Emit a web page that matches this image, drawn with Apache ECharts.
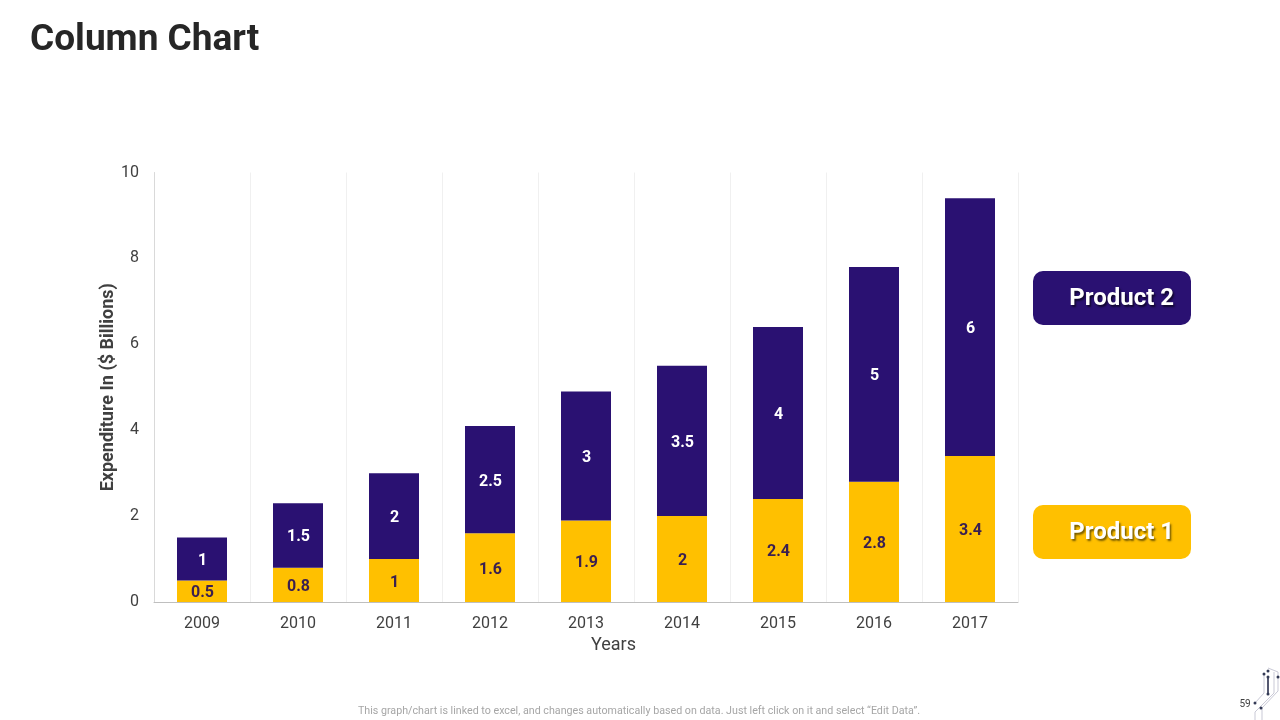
<!DOCTYPE html>
<html>
<head>
<meta charset="utf-8">
<style>html,body{margin:0;padding:0;background:#fff}#c{width:1280px;height:720px}</style>
<script src="https://cdn.jsdelivr.net/npm/echarts@6/dist/echarts.min.js"></script>
</head>
<body>
<div id="c"></div>
<script>
const years = ['2009','2010','2011','2012','2013','2014','2015','2016','2017'];
const product1 = [0.5,0.8,1,1.6,1.9,2,2.4,2.8,3.4];
const product2 = [1,1.5,2,2.5,3,3.5,4,5,6];
const yTicks = {min:0,max:10,interval:2};
const titleText = 'Column Chart';
const yName = 'Expenditure In ($ Billions)';
const xName = 'Years';
const footnote = 'This graph/chart is linked to excel, and changes automatically based on data. Just left click on it and select \u201cEdit Data\u201d.';
const pageNo = '59';
const NAVY = '#2a1172', GOLD = '#ffc000';
const FONT = 'Roboto';

const chart = echarts.init(document.getElementById('c'), null, {renderer:'canvas', width:1280, height:720});

function barSeries(name, data, color, labelColor){
  return {
    name, type:'bar', stack:'total', data, barWidth:50,
    itemStyle:{color},
    label:{show:true, position:'inside', offset:[0.5,2], color:labelColor, fontFamily:FONT, fontWeight:'bold', fontSize:16}
  };
}
function legendBox(y, color, text, shadow){
  return [
    {type:'rect', shape:{x:1033,y,width:158,height:54,r:10}, style:{fill:color}},
    {type:'text', style:{x:1174,y:y+28,text,align:'right',verticalAlign:'middle',fill:'#fff',
      font:'bold 24px '+FONT,textShadowColor:shadow,textShadowBlur:2,textShadowOffsetX:1.5,textShadowOffsetY:1.5}}
  ];
}
function deco(){
  const grey = {stroke:'#c9c9d6',lineWidth:1,fill:null};
  const dot = (x,y)=>({type:'circle',shape:{cx:x,cy:y,r:1.5},style:{fill:'#333a55'}});
  return [
    {type:'polyline',shape:{points:[[1255,703],[1264,693],[1264,674]]},style:grey},
    {type:'polyline',shape:{points:[[1262,720],[1262,708],[1278,691],[1278,672],[1268,668]]},style:grey},
    {type:'polyline',shape:{points:[[1255,720],[1255,712],[1274,693],[1274,672]]},style:grey},
    {type:'line',shape:{x1:1268,y1:677,x2:1268,y2:694},style:{stroke:'#1b2140',lineWidth:1.5}},
    dot(1255,703),dot(1268,677),dot(1268,694),dot(1264,674),dot(1268,671),dot(1278,677),dot(1261,708)
  ];
}

chart.setOption({
  animation:false,
  backgroundColor:'#fff',
  textStyle:{fontFamily:FONT},
  title:{text:titleText,left:25,top:17,textStyle:{fontFamily:FONT,fontSize:37,fontWeight:'bold',color:'#262626'}},
  grid:{left:154,top:172.5,width:864,height:429.5,containLabel:false},
  xAxis:{
    type:'category',data:years,
    name:xName,nameLocation:'middle',nameGap:34,
    nameTextStyle:{fontFamily:FONT,fontSize:18,color:'#404040',padding:[0,0,0,55]},
    axisTick:{show:false},
    axisLine:{lineStyle:{color:'#bfbfbf',width:1}},
    axisLabel:{fontFamily:FONT,fontSize:16,color:'#404040',margin:14},
    splitLine:{show:true,lineStyle:{color:'#f0f0f0',width:1}}
  },
  yAxis:{
    type:'value',min:yTicks.min,max:yTicks.max,interval:yTicks.interval,
    name:yName,nameLocation:'middle',nameGap:37,nameMoveOverlap:false,
    nameTextStyle:{fontFamily:FONT,fontSize:18,fontWeight:'bold',color:'#404040'},
    axisLine:{show:true,lineStyle:{color:'#d9d9d9',width:1}},
    axisTick:{show:false},
    axisLabel:{fontFamily:FONT,fontSize:16,color:'#404040',margin:15,padding:[6,0,0,0]},
    splitLine:{show:false}
  },
  series:[
    barSeries('Product 1',product1,GOLD,'#3a1f50'),
    barSeries('Product 2',product2,NAVY,'#ffffff')
  ],
  graphic:[
    ...legendBox(271,NAVY,'Product 2','rgba(0,0,0,0.6)'),
    ...legendBox(505,GOLD,'Product 1','rgba(90,70,0,0.85)'),
    {type:'text',style:{x:639,y:711,text:footnote,align:'center',verticalAlign:'middle',fill:'#a6a6a6',font:'10.7px '+FONT}},
    {type:'text',style:{x:1245,y:704,text:pageNo,align:'center',verticalAlign:'middle',fill:'#404040',font:'10px '+FONT}},
    ...deco()
  ]
});
</script>
</body>
</html>
